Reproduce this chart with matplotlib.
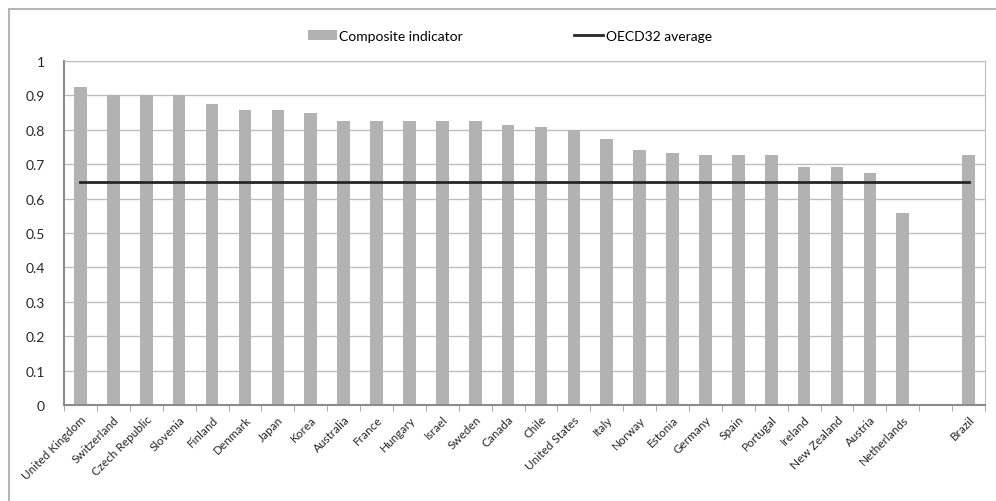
""" Composite indicator by country vs OECD32 average
"""
import numpy as np
import matplotlib.pyplot as plt
from matplotlib.patches import Rectangle

countries = ['United Kingdom', 'Switzerland', 'Czech Republic', 'Slovenia', 'Finland',
             'Denmark', 'Japan', 'Korea', 'Australia', 'France', 'Hungary', 'Israel',
             'Sweden', 'Canada', 'Chile', 'United States', 'Italy', 'Norway', 'Estonia',
             'Germany', 'Spain', 'Portugal', 'Ireland', 'New Zealand', 'Austria',
             'Netherlands', '', 'Brazil']
composite = [0.923, 0.90, 0.90, 0.90, 0.875, 0.857, 0.857, 0.849, 0.825, 0.825, 0.825,
             0.825, 0.825, 0.815, 0.808, 0.799, 0.773, 0.741, 0.733, 0.726, 0.726, 0.726,
             0.691, 0.691, 0.675, 0.558, np.nan, 0.726]
oecd_avg = 0.648

plt.rcParams['font.family'] = ['Lato', 'DejaVu Sans']

fig = plt.figure(figsize=(9.96, 5.02), dpi=100)

ax = fig.add_axes([0.0643, 0.191, 0.9247, 0.6855])

x = np.arange(len(countries))
vals = [0 if np.isnan(v) else v for v in composite]
bars = ax.bar(x, vals, width=0.385, color='#b2b2b2', zorder=2)
line, = ax.plot([x[0], x[-1]], [oecd_avg, oecd_avg], color='#262626', lw=2, zorder=3)

ax.set_xlim(-0.5, len(countries) - 0.5)
ax.set_ylim(0, 1)
ax.set_yticks(np.arange(0, 1.01, 0.1))
ax.set_yticklabels(['0'] + ['%.1f' % v for v in np.arange(0.1, 0.95, 0.1)] + ['1'])
ax.yaxis.grid(True, color='#bebebe', lw=1, zorder=0)
ax.tick_params(axis='y', length=0, pad=14, labelsize=10, colors='#262626')

ax.set_xticks(x)
ax.set_xticklabels(countries, rotation=45, ha='right', rotation_mode='anchor',
                   fontsize=8.5, color='#262626')
ax.tick_params(axis='x', which='major', length=0, pad=6)
ax.set_xticks(np.arange(-0.5, len(countries)), minor=True)
ax.tick_params(axis='x', which='minor', length=4, color='#9a9a9a', direction='out')

for s in ['top', 'right']:
    ax.spines[s].set_color('#bebebe')
for s in ['left', 'bottom']:
    ax.spines[s].set_color('#8c8c8c')
    ax.spines[s].set_linewidth(1.5)

fig.legend([bars, line], ['Composite indicator', 'OECD32 average'],
           loc='center', bbox_to_anchor=(0.512, 0.926), ncol=2, frameon=False,
           fontsize=10, columnspacing=8, handlelength=2.1, handletextpad=0.2)

# outer chart frame, its right and bottom edges run off the picture
fig.patches.append(Rectangle((0.0095, -0.02), 1.0, 1.001, transform=fig.transFigure,
                             figure=fig, fill=False, ec='#b4b4b4', lw=1.5))

fig.savefig('out.png', dpi=100)
